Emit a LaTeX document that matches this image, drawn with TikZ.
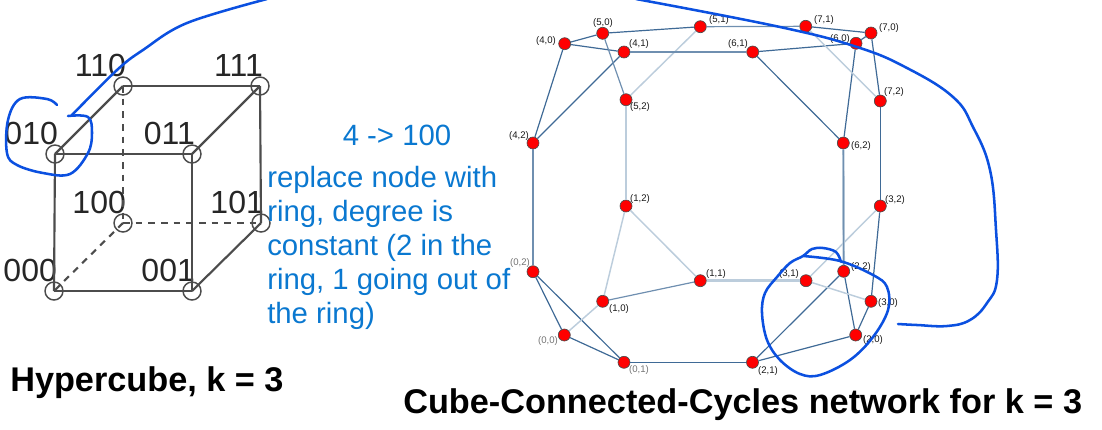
\documentclass[tikz,border=0pt]{standalone}
\usepackage{fontspec}
\setmainfont{Liberation Sans}
\usetikzlibrary{positioning}
\definecolor{penblue}{HTML}{0B50E0}
\definecolor{noteblue}{HTML}{0A78D0}
\definecolor{edgedark}{HTML}{3F6A96}
\definecolor{edgemid}{HTML}{6F8FB0}
\definecolor{edgepale}{HTML}{BCCDDC}
\tikzset{
  vertex/.style={draw=black!70, circle, line width=1.1pt, minimum size=13.5pt, inner sep=0pt},
  cubeedge/.style={draw=black!70, line width=1.6pt},
  hiddenedge/.style={cubeedge, dash pattern=on 5pt off 4.5pt},
  cubelabel/.style={inner sep=0pt, font=\fontsize{24}{24}\selectfont, text=black!85},
  ccc/.style={draw=black!70, fill=red, circle, line width=0.5pt, minimum size=9pt, inner sep=0pt},
  ccclabel/.style={inner sep=0pt, font=\fontsize{7.2}{7.2}\selectfont},
  dark/.style={draw=edgedark, line width=0.9pt},
  mid/.style={draw=edgemid, line width=0.9pt},
  pale/.style={draw=edgepale, line width=1.1pt},
  thick mid/.style={draw=edgemid, line width=1.7pt},
  thick pale/.style={draw=edgepale, line width=2pt},
  note/.style={inner sep=0pt, text=noteblue, font=\fontsize{22}{25.5}\selectfont},
  caption/.style={inner sep=0pt, font=\fontsize{25.7}{25.7}\selectfont\bfseries},
  pen/.style={draw=penblue, line width=1.9pt, line cap=round, line join=round}
}
\begin{document}
\begin{tikzpicture}[x=0.75pt, y=-0.75pt]
    \useasboundingbox (0,0) rectangle (1102,429);
    % Hypercube nodes
    \foreach \b/\x/\y in {000/54/291, 001/192/291, 010/55/154, 011/192/154,
                          100/123/223, 101/261/223, 110/123/86, 111/260/86} {
        \node[vertex] (v\b) at (\x,\y) {};
        \node[cubelabel, above left=1.5pt and -7.5pt of v\b] (t\b) {\b};
    }
    % Hypercube edges
    \draw[cubeedge] (v000.center) -- (v001.center);
    \draw[cubeedge] (v000.center) -- (v010.center);
    \draw[cubeedge] (v010.center) -- (v011.center);
    \draw[cubeedge] (v001.center) -- (v011.center);
    \draw[cubeedge] (v010.center) -- (v110.center);
    \draw[cubeedge] (v011.center) -- (v111.center);
    \draw[cubeedge] (v001.center) -- (v101.center);
    \draw[cubeedge] (v110.center) -- (v111.center);
    \draw[cubeedge] (v101.center) -- (v111.center);
    \draw[hiddenedge] (v110.center) -- (v100.center);
    \draw[hiddenedge] (v100.center) -- (v101.center);
    \draw[hiddenedge] (v100.center) -- (v000.center);
    % Cube-connected-cycles nodes
    \foreach \i/\j/\x/\y/\lx/\ly/\shade in {
        0/0/564.3/335/548/341/black!55, 0/1/624/362.3/639/370/black!55, 0/2/533/271.7/520/263/black!55,
        1/0/602.7/301.3/619/309/black!90, 1/1/700.3/280.7/716/274/black!90, 1/2/626/206/640/199/black!90,
        2/0/855.7/335/873/340/black!90, 2/1/752.5/362.3/768/371/black!90, 2/2/843.7/271.3/861/267/black!90,
        3/0/871/301.3/888/303/black!90, 3/1/806/280.7/789/274/black!90, 3/2/880.3/206/895/200/black!90,
        4/0/564.7/43.7/546/41/black!90, 4/1/624/52/639/44/black!90, 4/2/533/143/519/136/black!90,
        5/0/602.7/33.3/603/23/black!90, 5/1/700.3/26.7/719/20/black!90, 5/2/626/99.7/640/107/black!90,
        6/0/856/43.3/840/39/black!90, 6/1/752.7/52/738/44/black!90, 6/2/843.3/143/861/146/black!90,
        7/0/871/33/889/28/black!90, 7/1/805.7/26.3/824/20/black!90, 7/2/880.3/101/894/92/black!90} {
        \node[ccc] (c\i\j) at (\x,\y) {};
        \node[ccclabel, text=\shade] (l\i\j) at (\lx,\ly) {(\i,\j)};
    }
    % Ring edges
    \foreach \a/\b/\kind in {
        00/01/dark, 01/02/dark, 00/02/dark,
        10/11/mid, 11/12/pale, 10/12/pale,
        20/21/dark, 21/22/dark, 20/22/dark,
        30/31/pale, 31/32/pale, 30/32/dark,
        40/41/dark, 41/42/dark, 40/42/dark,
        50/51/dark, 51/52/pale, 50/52/mid,
        60/61/dark, 61/62/dark, 60/62/dark,
        70/71/dark, 71/72/pale, 70/72/dark} {
        \draw[\kind] (c\a) -- (c\b);
    }
    % Cube edges between the rings
    \foreach \a/\b/\kind in {
        00/10/pale, 20/30/dark, 40/50/dark, 60/70/dark,
        01/21/dark, 11/31/thick pale, 41/61/thick pale, 51/71/mid,
        02/42/thick mid, 12/52/thick pale, 22/62/thick pale, 32/72/dark} {
        \draw[\kind] (c\a) -- (c\b);
    }
    \draw[mid] (c41) -- (c61);
    \draw[mid] (c22) -- (c62);
    % Notes
    \node[note, anchor=base] (mapping) at (397,145) {4 -> 100};
    \node[note, anchor=base west] (line1) at (267,187) {replace node with};
    \node[note, anchor=base west] (line2) at (267,221) {ring, degree is};
    \node[note, anchor=base west] (line3) at (267,255) {constant (2 in the};
    \node[note, anchor=base west] (line4) at (267,289) {ring, 1 going out of};
    \node[note, anchor=base west] (line5) at (267,323) {the ring)};
    % Captions
    \node[caption, anchor=base west] (hypercube) at (10,391) {Hypercube, k = 3};
    \node[caption, anchor=base west] (network) at (403,413) {Cube-Connected-Cycles network for k = 3};
    % Pen strokes
    \draw[pen] plot[smooth, tension=0.6] coordinates {(57,105) (47,99) (20,99) (8,120) (7,153) (17,165) (43,173) (70,174) (88,153) (92,133) (88,117) (68,116)};
    \draw[pen] plot[smooth, tension=0.6] coordinates {(72,115) (117,70) (143,50) (187,23) (267,-1)};
    \draw[pen] plot[smooth, tension=0.6] coordinates {(803,256) (840,261) (873,275) (887,287) (888,310) (873,337) (850,360) (820,375) (800,374) (780,360) (767,340) (762,313) (765,293) (777,277) (790,263) (803,256) (812,249) (823,248) (836,252) (841,262)};
    \draw[pen] plot[smooth, tension=0.7] coordinates {(636,-1) (780,27) (857,47) (907,68) (953,97) (973,127) (990,170) (996,230) (997,280) (987,303) (970,320) (947,326) (917,325) (898,324)};
\end{tikzpicture}
\end{document}
